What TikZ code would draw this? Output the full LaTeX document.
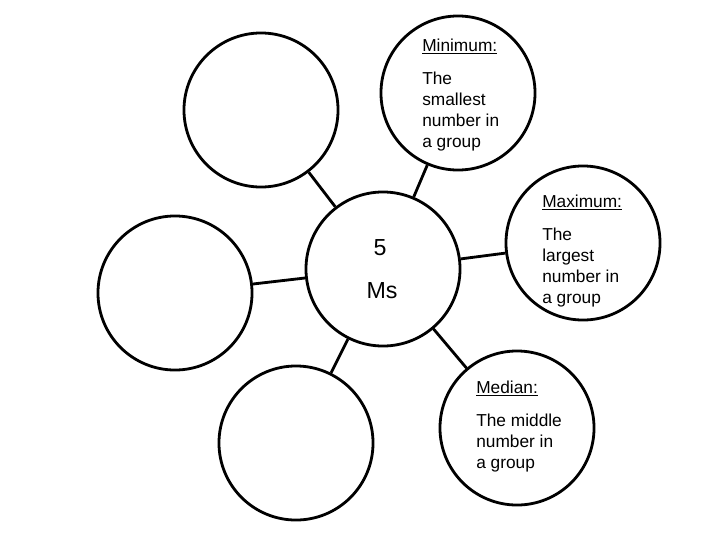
\documentclass[tikz,border=0pt]{standalone}
\usepackage{fontspec}
\setmainfont{Liberation Sans}

\tikzset{
  bubble/.style={draw, circle, line width=2pt, minimum size=3.85cm, inner sep=0pt},
  spoke/.style={line width=2pt},
  note/.style={anchor=base west, inner sep=0pt, font=\fontsize{12.3}{15}\selectfont},
  hubtext/.style={anchor=base, inner sep=0pt, font=\fontsize{16.5}{20}\selectfont},
}

\begin{document}
\begin{tikzpicture}[x=0.025cm, y=-0.025cm]
  \useasboundingbox (0,0) rectangle (720,540);
  \fill[white] (0,0) rectangle (720,540);

  % the seven bubbles
  \node[bubble] (hub) at (383,269) {};
  \node[bubble] (topleft) at (261,110) {};
  \node[bubble] (minimum) at (458,93) {};
  \node[bubble] (maximum) at (583,243) {};
  \node[bubble] (left) at (175,293) {};
  \node[bubble] (botleft) at (296,443) {};
  \node[bubble] (median) at (517,428) {};

  \foreach \leaf in {topleft,minimum,maximum,left,botleft,median}{
    \draw[spoke] (hub) -- (\leaf);
  }

  \node[hubtext] (five) at (380,255) {5};
  \node[hubtext] (ms) at (382,298) {Ms};

  \node[note] (minhead) at (422,51) {\underline{Minimum:}};
  \foreach \txt [count=\i] in {The, smallest, number in, a group}{
    \node[note] (minline\i) at (422,{84+21.3*(\i-1)}) {\txt};
  }

  \node[note] (maxhead) at (542,207) {\underline{Maximum:}};
  \foreach \txt [count=\i] in {The, largest, number in, a group}{
    \node[note] (maxline\i) at (542,{240+21.3*(\i-1)}) {\txt};
  }

  \node[note] (medhead) at (476,393) {\underline{Median:}};
  \foreach \txt [count=\i] in {The middle, number in, a group}{
    \node[note] (medline\i) at (476,{426+21.3*(\i-1)}) {\txt};
  }
\end{tikzpicture}
\end{document}
